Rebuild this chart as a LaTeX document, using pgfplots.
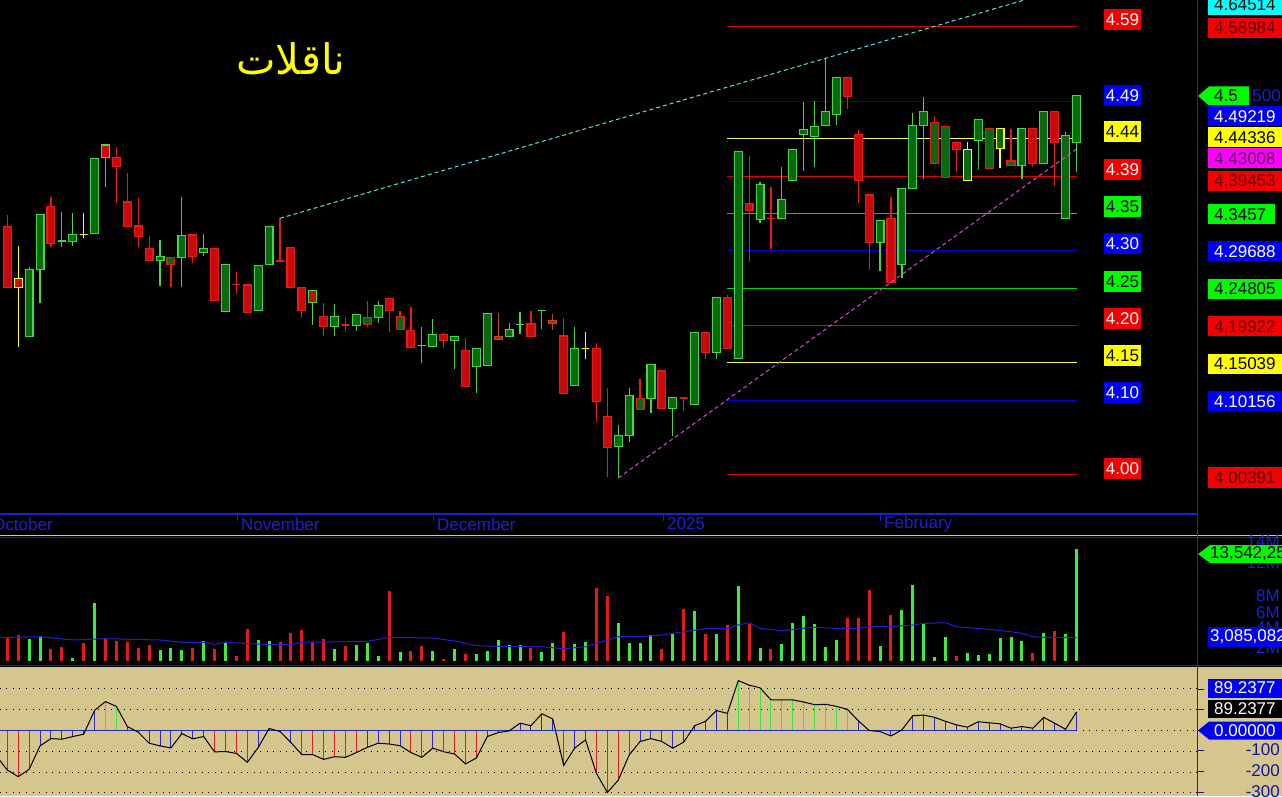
\documentclass[border=0pt]{standalone}
\usepackage{fontspec}
\setmainfont{Liberation Sans}
\newfontfamily\arabicfont[Script=Arabic]{DejaVu Sans}
\usepackage{pgfplots}
\pgfplotsset{compat=1.18}
\usepackage{pgfplotstable}
\TeXXeTstate=1
\definecolor{gE}{RGB}{70,215,70}
\definecolor{gF}{RGB}{10,105,15}
\definecolor{rE}{RGB}{235,25,25}
\definecolor{rF}{RGB}{200,10,10}
\definecolor{yE}{RGB}{255,255,0}
\definecolor{oE}{RGB}{200,70,30}
\definecolor{oF}{RGB}{170,50,20}
\definecolor{tanc}{RGB}{213,198,142}
\definecolor{lR}{RGB}{225,0,0}
\definecolor{lB}{RGB}{0,0,215}
\definecolor{lG}{RGB}{0,220,0}
\definecolor{lY}{RGB}{255,255,80}
\definecolor{cyanL}{RGB}{90,225,225}
\definecolor{magL}{RGB}{220,70,220}
\definecolor{axB}{RGB}{30,30,215}
\definecolor{vG}{RGB}{60,235,60}
\definecolor{vR}{RGB}{230,25,25}
\definecolor{hR}{RGB}{230,30,30}
\definecolor{hB}{RGB}{40,40,210}
\definecolor{hG}{RGB}{60,230,60}
\definecolor{bxR}{RGB}{245,0,0}
\definecolor{bxB}{RGB}{0,0,245}
\definecolor{bxG}{RGB}{0,250,0}
\definecolor{bxY}{RGB}{255,255,0}
\definecolor{bxM}{RGB}{255,0,255}
\definecolor{bxC}{RGB}{0,255,255}
\definecolor{dkR}{RGB}{90,0,0}
\definecolor{dkM}{RGB}{90,0,90}
\definecolor{navy}{RGB}{20,20,160}
\newcommand\lbl{\fontsize{17}{17}\selectfont}

\pgfplotstableread{
i o h l c f e
0 4.3287 4.3440 4.2494 4.2494 rF rE
1 4.2606 4.3034 4.1717 4.2494 rF yE
2 4.1848 4.2763 4.1848 4.2729 gF gE
3 4.2729 4.3449 4.2285 4.3449 gF gE
4 4.3553 4.3679 4.3017 4.3069 rF rE
5 4.3100 4.3483 4.3017 4.3100 gF gE
6 4.3090 4.3470 4.3038 4.3187 gF gE
7 4.3187 4.3470 4.3135 4.3187 gF yE
8 4.3200 4.4181 4.3200 4.4181 gF gE
9 4.4355 4.4355 4.3810 4.4194 rF gE
10 4.4194 4.4325 4.3600 4.4071 rF rE
11 4.3610 4.3993 4.3287 4.3287 rF rE
12 4.3296 4.3666 4.3017 4.3156 rF rE
13 4.3004 4.3165 4.2842 4.2842 rF rE
14 4.2847 4.3113 4.2511 4.2899 gF gE
15 4.2790 4.2886 4.2502 4.2886 gF rE
16 4.2881 4.3679 4.2502 4.3174 gF gE
17 4.3178 4.3178 4.2808 4.2894 rF rE
18 4.2946 4.3191 4.2903 4.3004 gF gE
19 4.3004 4.3004 4.2319 4.2319 rF rE
20 4.2175 4.2795 4.2175 4.2795 gF gE
21 4.2528 4.2698 4.2406 4.2528 rF rE
22 4.2524 4.2524 4.2162 4.2162 rF rE
23 4.2188 4.2782 4.2188 4.2782 gF gE
24 4.2790 4.3292 4.2790 4.3292 gF gE
25 4.2838 4.3396 4.2838 4.2838 rF rE
26 4.3017 4.3017 4.2494 4.2494 rF rE
27 4.2494 4.2494 4.2092 4.2188 rF rE
28 4.2449 4.2449 4.2001 4.2293 rF gE
29 4.2115 4.2285 4.1861 4.1979 rF rE
30 4.1979 4.2276 4.1861 4.2115 gF gE
31 4.2001 4.2102 4.1926 4.2001 rF rE
32 4.1997 4.2141 4.1926 4.2141 gF gE
33 4.2010 4.2315 4.1979 4.2102 gF rE
34 4.2102 4.2315 4.2031 4.2259 gF gE
35 4.2350 4.2350 4.1913 4.2188 rF rE
36 4.1945 4.2184 4.1945 4.2115 gF rE
37 4.1932 4.2240 4.1709 4.1709 rF rE
38 4.1730 4.1979 4.1508 4.1730 gF gE
39 4.1717 4.2079 4.1717 4.1879 gF gE
40 4.1879 4.1913 4.1696 4.1796 rF rE
41 4.1801 4.1848 4.1429 4.1848 gF gE
42 4.1670 4.1835 4.1194 4.1194 rF rE
43 4.1461 4.1696 4.1108 4.1696 gF gE
44 4.1469 4.2154 4.1469 4.2154 gF gE
45 4.1848 4.2154 4.1809 4.1809 oF oE
46 4.1853 4.2023 4.1853 4.1945 gF gE
47 4.2005 4.2167 4.1883 4.2005 gF gE
48 4.2014 4.2188 4.1848 4.1848 rF rE
49 4.2188 4.2188 4.1945 4.2188 gF gE
50 4.2062 4.2145 4.1935 4.2023 oF oE
51 4.1857 4.2089 4.1108 4.1108 rF rE
52 4.1212 4.1979 4.1212 4.1696 gF gE
53 4.1696 4.1913 4.1560 4.1696 gF yE
54 4.1696 4.1762 4.0732 4.0998 rF rE
55 4.0802 4.1181 4.0017 4.0396 rF rE
56 4.0409 4.0689 3.9996 4.0558 gF gE
57 4.0558 4.1173 4.0475 4.1081 gF gE
58 4.0898 4.1291 4.0898 4.1042 gF rE
59 4.1042 4.1487 4.0846 4.1487 gF gE
60 4.1399 4.1399 4.0911 4.0911 rF rE
61 4.0911 4.1055 4.0553 4.1055 gF gE
62 4.1045 4.1045 4.0880 4.1045 rF rE
63 4.0964 4.1905 4.0964 4.1905 gF gE
64 4.1905 4.1905 4.1556 4.1644 rF rE
65 4.1644 4.2363 4.1552 4.2363 gF gE
66 4.2363 4.2393 4.1691 4.1691 rF rE
67 4.1560 4.4273 4.1560 4.4273 gF gE
68 4.3593 4.4211 4.2829 4.3496 rF rE
69 4.3383 4.3875 4.3339 4.3841 gF gE
70 4.3396 4.3802 4.2991 4.3396 rF rE
71 4.3396 4.4071 4.3396 4.3645 gF gE
72 4.3888 4.4299 4.3888 4.4299 gF gE
73 4.4495 4.4921 4.4019 4.4560 gF gE
74 4.4464 4.4930 4.4063 4.4594 gF gE
75 4.4613 4.5489 4.4613 4.4796 gF gE
76 4.4757 4.5241 4.4617 4.5241 gF gE
77 4.5241 4.5241 4.4822 4.4987 rF rE
78 4.4495 4.4551 4.3600 4.3888 rF rE
79 4.3701 4.3701 4.2720 4.3077 rF rE
80 4.3077 4.3365 4.2711 4.3365 gF gE
81 4.3396 4.3671 4.2554 4.2554 rF rE
82 4.2795 4.3789 4.2620 4.3789 gF gE
83 4.3789 4.4770 4.3789 4.4613 gF gE
84 4.4613 4.4979 4.3906 4.4796 gF gE
85 4.4116 4.4734 4.4116 4.4652 gF rE
86 4.3933 4.4594 4.3933 4.4594 gF rE
87 4.4390 4.4390 4.4006 4.4299 rF rE
88 4.3888 4.4390 4.3888 4.4299 gF yE
89 4.4411 4.4691 4.4037 4.4691 gF gE
90 4.4050 4.4568 4.4050 4.4568 gF rE
91 4.4307 4.4568 4.4050 4.4568 gF yE
92 4.4090 4.4560 4.4090 4.4146 gF rE
93 4.4090 4.4568 4.3906 4.4568 gF gE
94 4.4568 4.4568 4.4063 4.4116 rF rE
95 4.4116 4.4796 4.4116 4.4796 gF gE
96 4.4796 4.4796 4.3823 4.4390 rF rE
97 4.3396 4.4529 4.3396 4.4477 gF gE
98 4.4390 4.5000 4.4006 4.5000 gF gE
}\candles

\pgfplotstableread{
i vg vr
0 nan 2.92
1 nan 3.12
2 2.64 nan
3 2.96 nan
4 nan 1.46
5 nan 1.66
6 0.33 nan
7 nan 2.15
8 7.05 nan
9 nan 2.60
10 nan 2.43
11 nan 2.31
12 nan 1.58
13 nan 1.94
14 1.30 nan
15 1.58 nan
16 1.30 nan
17 nan 1.58
18 2.39 nan
19 nan 1.38
20 2.27 nan
21 nan 0.61
22 nan 3.89
23 2.52 nan
24 2.43 nan
25 nan 2.31
26 nan 3.37
27 nan 3.73
28 nan 2.27
29 nan 2.67
30 1.42 nan
31 nan 1.79
32 1.91 nan
33 2.19 nan
34 0.57 nan
35 nan 8.51
36 1.06 nan
37 nan 1.22
38 nan 1.82
39 1.22 nan
40 nan 0.24
41 1.46 nan
42 nan 0.85
43 0.81 nan
44 1.22 nan
45 2.55 nan
46 1.91 nan
47 1.91 nan
48 nan 1.58
49 1.09 nan
50 2.15 nan
51 nan 3.52
52 2.03 nan
53 2.27 nan
54 nan 8.87
55 nan 7.90
56 4.58 nan
57 2.15 nan
58 2.19 nan
59 3.12 nan
60 nan 1.38
61 3.37 nan
62 nan 6.32
63 6.08 nan
64 nan 3.28
65 3.24 nan
66 nan 4.34
67 9.08 nan
68 nan 4.50
69 1.58 nan
70 nan 1.46
71 2.03 nan
72 4.58 nan
73 5.43 nan
74 4.46 nan
75 1.70 nan
76 2.52 nan
77 nan 5.22
78 nan 5.19
79 nan 8.59
80 1.79 nan
81 nan 5.55
82 6.20 nan
83 9.20 nan
84 4.46 nan
85 0.49 nan
86 2.88 nan
87 nan 0.57
88 0.90 nan
89 0.69 nan
90 0.81 nan
91 2.76 nan
92 2.92 nan
93 2.43 nan
94 nan 0.97
95 3.37 nan
96 nan 3.65
97 3.21 nan
98 13.54 nan
}\vol

\pgfplotstableread{
i m
-1 2.84
0 2.84
3 2.92
6 2.52
9 2.68
14 2.52
16 2.24
18 2.24
19 1.99
20 2.24
24 1.95
26 1.95
27 2.24
33 2.35
35 2.84
39 2.76
41 2.40
43 1.83
46 1.70
49 1.70
51 1.46
53 1.70
55 2.52
56 2.92
58 2.92
60 3.12
62 3.52
64 3.89
66 3.89
67 4.34
68 4.62
69 3.94
71 3.65
73 3.94
74 4.06
76 3.94
78 3.94
79 4.13
81 4.13
83 4.34
84 4.54
86 4.62
87 4.13
90 3.81
92 3.52
93 3.33
94 2.92
95 2.84
98 2.84
}\volma

\pgfplotstableread{
i v
-1 -123
0 -190
1 -222
2 -187
3 -74
4 -39
5 -42
6 -29
7 -18
8 97
9 139
10 116
11 19
12 -8
13 -61
14 -74
15 -84
16 -15
17 -40
18 -29
19 -103
20 -101
21 -110
22 -153
23 -82
24 10
25 -5
26 -58
27 -116
28 -116
29 -139
30 -126
31 -129
32 -106
33 -81
34 -61
35 -65
36 -73
37 -106
38 -129
39 -85
40 -102
41 -113
42 -161
43 -132
44 -29
45 -10
46 -2
47 35
48 23
49 81
50 55
51 -168
52 -85
53 -45
54 -206
55 -298
56 -239
57 -118
58 -53
59 -39
60 -53
61 -85
62 -56
63 23
64 44
65 96
66 82
67 240
68 218
69 205
70 147
71 147
72 147
73 137
74 124
75 126
76 116
77 102
78 47
79 0
80 -5
81 -26
82 3
83 71
84 74
85 63
86 44
87 27
88 16
89 42
90 37
91 32
92 11
93 19
94 11
95 63
96 35
97 6
98 89
}\osc

\pgfplotstablegetrowsof{\candles}
\pgfmathtruncatemacro\nrows{\pgfplotsretval-1}

\begin{document}
\begin{tikzpicture}[x=1pt,y=1pt]
\useasboundingbox (0,0) rectangle (1282,796);
\clip (0,0) rectangle (1282,796);
\fill[black] (0,0) rectangle (1282,796);
\fill[tanc] (0,0) rectangle (1282,129.5);

% ---------------- price panel
\begin{axis}[at={(0pt,261pt)}, anchor=south west, scale only axis,
  width=1197pt, height=535pt, xmin=-0.669, xmax=109.05,
  ymin=3.925426, ymax=4.625153, hide axis, clip=true]
\addplot[forget plot, lR, line width=1pt] coordinates {(65.95,4.58984) (98.05,4.58984)};
\addplot[forget plot, lB, line width=1pt] coordinates {(65.95,4.49219) (98.05,4.49219)};
\addplot[forget plot, lY, line width=1pt] coordinates {(65.95,4.44336) (98.05,4.44336)};
\addplot[forget plot, lR, line width=1pt] coordinates {(65.95,4.39453) (98.05,4.39453)};
\addplot[forget plot, lG, line width=1pt] coordinates {(65.95,4.34570) (98.05,4.34570)};
\addplot[forget plot, lB, line width=1pt] coordinates {(65.95,4.29688) (98.05,4.29688)};
\addplot[forget plot, lG, line width=1pt] coordinates {(65.95,4.24805) (98.05,4.24805)};
\addplot[forget plot, lR, line width=1pt] coordinates {(65.95,4.19922) (98.05,4.19922)};
\addplot[forget plot, lY, line width=1pt] coordinates {(65.95,4.15039) (98.05,4.15039)};
\addplot[forget plot, lB, line width=1pt] coordinates {(65.95,4.10156) (98.05,4.10156)};
\addplot[forget plot, lR, line width=1pt] coordinates {(65.95,4.00391) (98.05,4.00391)};
\pgfplotsforeachungrouped \k in {0,...,\nrows}{%
  \pgfplotstablegetelem{\k}{i}\of\candles\edef\ci{\pgfplotsretval}%
  \pgfplotstablegetelem{\k}{o}\of\candles\edef\co{\pgfplotsretval}%
  \pgfplotstablegetelem{\k}{h}\of\candles\edef\ch{\pgfplotsretval}%
  \pgfplotstablegetelem{\k}{l}\of\candles\edef\cl{\pgfplotsretval}%
  \pgfplotstablegetelem{\k}{c}\of\candles\edef\cc{\pgfplotsretval}%
  \pgfplotstablegetelem{\k}{f}\of\candles\edef\cf{\pgfplotsretval}%
  \pgfplotstablegetelem{\k}{e}\of\candles\edef\ce{\pgfplotsretval}%
  \pgfmathsetmacro\xl{\ci-0.36}%
  \pgfmathsetmacro\xr{\ci+0.36}%
  \edef\doit{%
    \noexpand\addplot[forget plot, draw=\ce, line width=1.2pt] coordinates {(\ci,\cl) (\ci,\ch)};%
    \noexpand\addplot[forget plot, draw=\ce, fill=\cf, line width=1.2pt, line join=miter] coordinates {(\xl,\co) (\xr,\co) (\xr,\cc) (\xl,\cc)} -- cycle;%
  }\doit
}
\addplot[forget plot, cyanL, line width=1pt, dash pattern=on 4pt off 3pt] coordinates {(25,4.3396) (98,4.64514)};
\addplot[forget plot, magL, line width=1pt, dash pattern=on 4pt off 3pt] coordinates {(56,4.0000) (98,4.43008)};
\end{axis}

% ---------------- volume panel
\begin{axis}[at={(0pt,130pt)}, anchor=south west, scale only axis,
  width=1197pt, height=126pt, xmin=-0.669, xmax=109.05,
  ymin=-0.64, ymax=14.67, hide axis, clip=true]
\addplot[forget plot, ycomb, draw=vG, line width=3pt] table[x=i, y=vg] {\vol};
\addplot[forget plot, ycomb, draw=vR, line width=3pt] table[x=i, y=vr] {\vol};
\addplot[forget plot, axB, line width=1pt] table[x=i, y=m] {\volma};
\end{axis}

% ---------------- oscillator panel
\begin{axis}[at={(0pt,0pt)}, anchor=south west, scale only axis,
  width=1197pt, height=128pt, xmin=-0.669, xmax=109.05,
  ymin=-315, ymax=300.5, hide axis, clip=true]
\foreach \g in {200,100,-100,-200,-300}{
  \edef\tmp{\noexpand\draw[black, line width=1pt, dash pattern=on 1pt off 5.5pt] (axis cs:-0.669,\g) -- (axis cs:109.05,\g);}\tmp
}
\draw[black, line width=1pt, dash pattern=on 1pt off 5.5pt] (axis cs:98,0) -- (axis cs:109.05,0);
\addplot[forget plot, ycomb, draw=hR, line width=1pt, restrict y to domain=-1000:-100] table[x=i, y=v] {\osc};
\addplot[forget plot, ycomb, draw=hB, line width=1pt, restrict y to domain=-100:100] table[x=i, y=v] {\osc};
\addplot[forget plot, ycomb, draw=hG, line width=1pt, restrict y to domain=100:1000] table[x=i, y=v] {\osc};
\draw[hB, line width=1.5pt] (axis cs:-0.669,0) -- (axis cs:98,0);
\addplot[forget plot, black, line width=1pt] table[x=i, y=v] {\osc};
\end{axis}

% ---------------- annotations (y measured downward)
\begin{scope}[x=1pt, y=-1pt, shift={(0pt,796pt)}]
% separators
\draw[axB, line width=1.3pt] (0,514) -- (1197.5,514);
\draw[white!75!blue, line width=1pt] (0,535) -- (1282,535);
\draw[axB, line width=1.2pt] (0,537.5) -- (1282,537.5);
\draw[axB, line width=1.3pt] (0,665.7) -- (1282,665.7);
\draw[axB, line width=1.3pt] (1197.5,0) -- (1197.5,796);
% month ticks and labels
\foreach \mx in {237,433,663,880}{\draw[axB, line width=1pt] (\mx,514) -- (\mx,521);}
\node[anchor=west, text=axB, font=\lbl, inner sep=0pt] at (-8,524) {October};
\node[anchor=west, text=axB, font=\lbl, inner sep=0pt] at (241,524) {November};
\node[anchor=west, text=axB, font=\lbl, inner sep=0pt] at (437,524) {December};
\node[anchor=west, text=axB, font=\lbl, inner sep=0pt] at (667,524) {2025};
\node[anchor=west, text=axB, font=\lbl, inner sep=0pt] at (884,524) {February};
% title
\node[text=yE, font=\arabicfont\fontsize{42}{42}\selectfont, inner sep=0pt] at (291,59) {\beginR ناقلات\endR};
% left level labels
\newcommand\llab[4]{\fill[#1] (1104,{#3-10.5}) rectangle (1141,{#3+10.5});
  \node[text=#2, font=\lbl, inner sep=0pt] at (1122.5,#3) {#4};}
\llab{bxR}{white}{20}{4.59}
\llab{bxB}{white}{95.5}{4.49}
\llab{bxY}{black}{132}{4.44}
\llab{bxR}{white}{170}{4.39}
\llab{bxG}{black}{207}{4.35}
\llab{bxB}{white}{244}{4.30}
\llab{bxG}{black}{282}{4.25}
\llab{bxR}{white}{319}{4.20}
\llab{bxY}{black}{356}{4.15}
\llab{bxB}{white}{393}{4.10}
\llab{bxR}{white}{469}{4.00}
% right price labels
\node[anchor=east, text=axB, font=\lbl, inner sep=0pt] at (1281,96) {4.500};
\newcommand\rlab[5]{\fill[#1] (1207.5,{#3-10}) rectangle (#5,{#3+10});
  \node[anchor=west, text=#2, font=\lbl, inner sep=0pt] at (1214,#3) {#4};}
\rlab{bxC}{black}{5}{4.64514}{1290}
\rlab{bxR}{dkR}{28}{4.58984}{1290}
\rlab{bxB}{white}{116.5}{4.49219}{1290}
\rlab{bxY}{black}{137.5}{4.44336}{1290}
\rlab{bxM}{dkM}{158.5}{4.43008}{1290}
\rlab{bxR}{dkR}{181}{4.39453}{1290}
\rlab{bxG}{black}{214.5}{4.3457}{1275}
\rlab{bxB}{white}{251.5}{4.29688}{1290}
\rlab{bxG}{black}{289}{4.24805}{1290}
\rlab{bxR}{dkR}{326.5}{4.19922}{1290}
\rlab{bxY}{black}{364}{4.15039}{1290}
\rlab{bxB}{white}{401.5}{4.10156}{1290}
\rlab{bxR}{dkR}{477.5}{4.00391}{1290}
\fill[bxG] (1198,96) -- (1209,86.5) -- (1249,86.5) -- (1249,105.5) -- (1209,105.5) -- cycle;
\node[anchor=west, text=black, font=\lbl, inner sep=0pt] at (1214,96) {4.5};
% volume axis labels
\foreach \yy/\tt in {541.7/14M,563/12M,596/8M,613/6M,628/4M,648/2M}{
  \node[anchor=east, text=axB, font=\lbl, inner sep=0pt] at (1280,\yy) {\tt};}
\fill[bxG] (1198,554) -- (1210,545) -- (1290,545) -- (1290,563) -- (1210,563) -- cycle;
\node[anchor=west, text=black, font=\lbl, inner sep=0pt] at (1210,554) {13,542,258};
\fill[bxB] (1208,627) rectangle (1290,647);
\node[anchor=west, text=white, font=\lbl, inner sep=0pt] at (1210,637) {3,085,082};
% oscillator labels
\foreach \yy in {689,709,730,750,771,792}{\draw[navy, line width=1pt] (1197.5,\yy) -- (1204,\yy);}
\fill[bxB] (1207.5,678.5) rectangle (1290,697.5);
\node[anchor=west, text=white, font=\lbl, inner sep=0pt] at (1214,688) {89.2377};
\fill[black] (1207.5,699.5) rectangle (1290,717.5);
\node[anchor=west, text=white, font=\lbl, inner sep=0pt] at (1214,708.5) {89.2377};
\fill[bxB] (1198,730.5) -- (1209,721.5) -- (1290,721.5) -- (1290,739.5) -- (1209,739.5) -- cycle;
\node[anchor=west, text=white, font=\lbl, inner sep=0pt] at (1214,730.5) {0.00000};
\node[anchor=east, text=navy, font=\lbl, inner sep=0pt] at (1280,750) {-100};
\node[anchor=east, text=navy, font=\lbl, inner sep=0pt] at (1280,771) {-200};
\node[anchor=east, text=navy, font=\lbl, inner sep=0pt] at (1280,792) {-300};
\end{scope}
\end{tikzpicture}
\end{document}
